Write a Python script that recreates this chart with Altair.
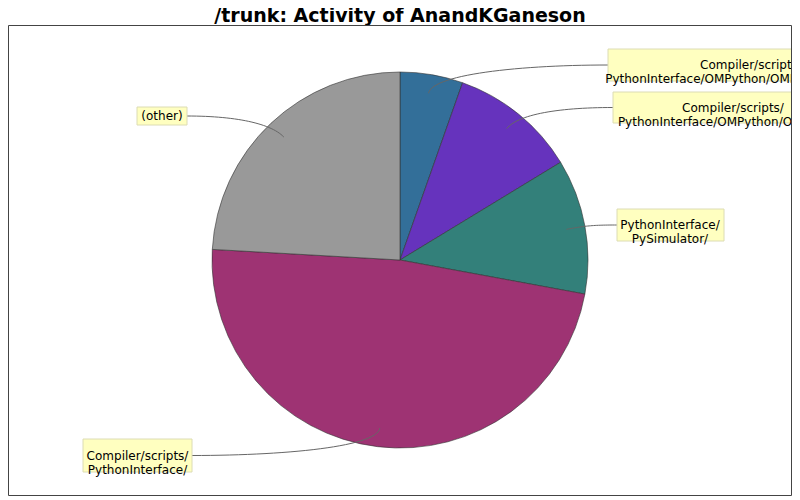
import math
import altair as alt
import pandas as pd

# ---------------- data ----------------
chart_title = "/trunk: Activity of AnandKGaneson"
directories = [
    "Compiler/scripts/PythonInterface/OMPython/OMPython/OMParser/",
    "Compiler/scripts/PythonInterface/OMPython/OMPython/",
    "PythonInterface/PySimulator/",
    "Compiler/scripts/PythonInterface/",
    "(other)",
]
label_lines = [
    "Compiler/scripts/\nPythonInterface/OMPython/OMPython/OMParser/",
    "Compiler/scripts/\nPythonInterface/OMPython/OMPython/",
    "PythonInterface/\nPySimulator/",
    "Compiler/scripts/\nPythonInterface/",
    "(other)",
]
shares = [5.4, 10.9, 11.6, 48.0, 24.1]
colors = ["#336f99", "#6633bd", "#33807a", "#9e3373", "#999999"]

# ---------------- layout (pixels, page coordinates) ----------------
XO, YO = 8, 8  # page position of the view origin (body margin)
W, H = 784, 490
CX, CY, R = 400, 260, 188
label_x = [751, 733, 670, 137.5, 162]
label_y = [65, 107.5, 225, 455.5, 116]
box_left = [608, 613, 617, 83, 137]
box_right = [900, 860, 724, 192, 187]
box_top = [49, 92, 209, 439, 107]
box_bottom = [81, 123, 241, 472, 125]
label_side = ["right", "right", "right", "left", "left"]

slices = pd.DataFrame({
    "dir": directories,
    "share": shares,
    "idx": list(range(len(directories))),
})

# leader lines derived from slice mid-angles
total = sum(shares)
paths = []
cum = 0.0
for i, s in enumerate(shares):
    mid = (cum + s / 2) / total * 2 * math.pi
    cum += s
    dx, dy = math.sin(mid), -math.cos(mid)
    p0 = (CX + 0.9 * R * dx, CY + 0.9 * R * dy)
    p1 = (CX + 1.0 * R * dx, CY + 1.0 * R * dy)
    ax = box_left[i] if label_side[i] == "right" else box_right[i]
    p3 = (ax, label_y[i])
    p2 = ((p0[0] + p3[0]) / 2, label_y[i])
    n = 30
    for k in range(n + 1):
        t = k / n
        a, b, c, d = (1 - t) ** 3, 3 * (1 - t) ** 2 * t, 3 * (1 - t) * t ** 2, t ** 3
        paths.append({
            "dir": directories[i], "k": k,
            "px": a * p0[0] + b * p1[0] + c * p2[0] + d * p3[0] - XO,
            "py": a * p0[1] + b * p1[1] + c * p2[1] + d * p3[1] - YO,
        })
paths = pd.DataFrame(paths)

labels = pd.DataFrame({
    "text": label_lines,
    "lx": [v - XO for v in label_x], "ly": [v - YO for v in label_y],
    "x1": [v - XO for v in box_left], "x2": [v - XO for v in box_right],
    "y1": [v - YO for v in box_top], "y2": [v - YO for v in box_bottom],
})

pie = alt.Chart(slices).mark_arc(
    radius=R, stroke="#333333", strokeWidth=0.6
).encode(
    theta=alt.Theta("share:Q", stack=True),
    order=alt.Order("idx:Q"),
    color=alt.Color("dir:N", scale=alt.Scale(domain=directories, range=colors), legend=None),
    x=alt.value(CX - XO), y=alt.value(CY - YO),
)

links = alt.Chart(paths).mark_line(color="#666666", strokeWidth=1).encode(
    x=alt.X("px:Q", scale=None, axis=None),
    y=alt.Y("py:Q", scale=None, axis=None),
    detail="dir:N",
    order="k:Q",
)

boxes = alt.Chart(labels).mark_rect(
    fill="#ffffc0", stroke="#dcdcb4", strokeWidth=1
).encode(
    x=alt.X("x1:Q", scale=None, axis=None), x2="x2:Q",
    y=alt.Y("y1:Q", scale=None, axis=None), y2="y2:Q",
)

texts = alt.Chart(labels).mark_text(
    font="DejaVu Sans", fontSize=12, lineBreak="\n", lineHeight=14,
    align="center", baseline="middle", color="#000000",
).encode(
    x=alt.X("lx:Q", scale=None, axis=None),
    y=alt.Y("ly:Q", scale=None, axis=None),
    text="text:N",
)

title = alt.Chart(pd.DataFrame({"t": [chart_title]})).mark_text(
    font="DejaVu Sans", fontWeight="bold", fontSize=19,
    align="center", baseline="alphabetic", color="#000000",
).encode(
    x=alt.value(400 - XO), y=alt.value(22 - YO), text="t:N"
)

frame = alt.Chart(pd.DataFrame({"a": [0]})).mark_rect(
    fillOpacity=0, stroke="#444444", strokeWidth=1
).encode(
    x=alt.value(0.5), x2=alt.value(W - 0.5),
    y=alt.value(25.5 - YO), y2=alt.value(495.5 - YO),
)

chart = alt.layer(pie, links, boxes, texts, title, frame).properties(
    width=W, height=H,
    autosize=alt.AutoSizeParams(type="none"),
    padding=0,
    background="#ffffff",
).configure_view(strokeWidth=0)

chart.save("out.html", embed_options={"renderer": "svg", "actions": False})
